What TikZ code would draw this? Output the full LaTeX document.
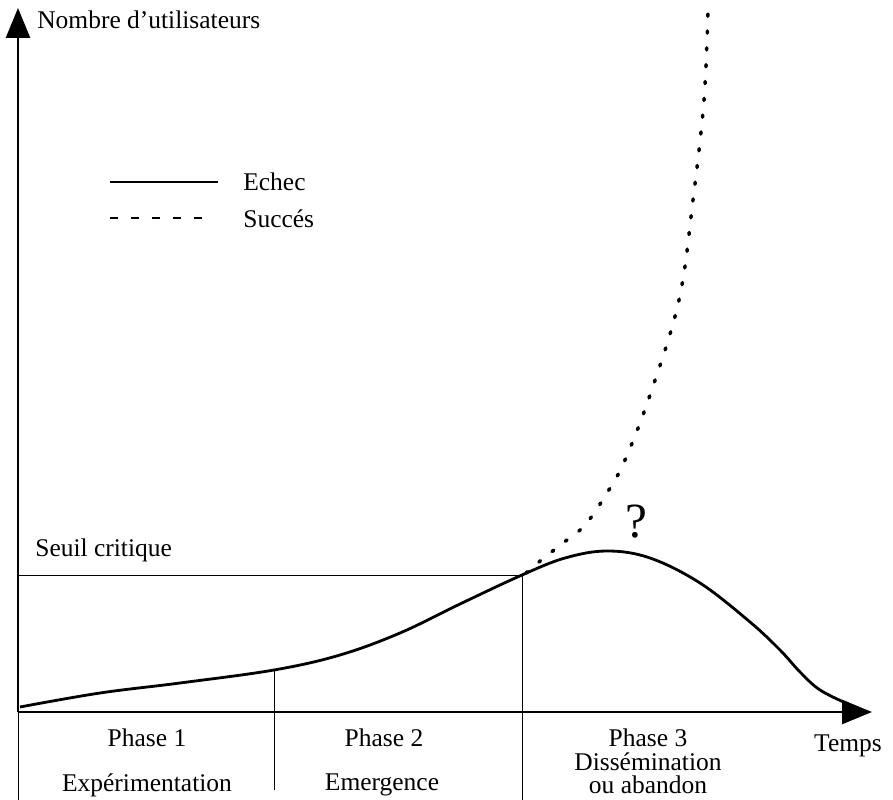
\documentclass[tikz,border=0pt]{standalone}
\usepackage{fontspec}
\setmainfont{Liberation Serif}
\usetikzlibrary{arrows.meta}
\tikzset{
  axe/.style={line width=1.5pt, -{Triangle[length=0.6cm,width=0.48cm]}},
  courbe/.style={line width=1.6pt},
  fin/.style={line width=0.5pt},
  pointille/.style={line width=2pt, line cap=round, dash pattern=on 1.2pt off 8.4pt},
  tirets/.style={line width=1.6pt, dash pattern=on 4.5pt off 7.5pt},
  every node/.style={font=\fontsize{14.5}{16}\selectfont, inner sep=0pt}
}

\begin{document}
\begin{tikzpicture}[x=0.02cm,y=-0.02cm]
  \useasboundingbox (0,0) rectangle (893,800);
  % axes
  \coordinate (o) at (18,712);
  \coordinate (ytop) at (18,8);
  \coordinate (xend) at (872,712);
  \draw[axe] (o) -- (ytop);
  \draw[axe] (o) -- (xend);
  \node[anchor=west] (ylab) at (37,20) {Nombre d’utilisateurs};
  \node (xlab) at (848,746) {Temps};

  % legende
  \coordinate (l1a) at (110,182);
  \coordinate (l1b) at (218,182);
  \coordinate (l2a) at (110,218);
  \coordinate (l2b) at (210,218);
  \draw[courbe] (l1a) -- (l1b);
  \draw[tirets] (l2a) -- (l2b);
  \node[anchor=west] (echec) at (243,182) {Echec};
  \node[anchor=west] (succes) at (243,219) {Succés};

  % seuil et phases
  \coordinate (s) at (522,575);
  \coordinate (p1) at (274,670);
  \draw[fin] (18,575) -- (s);
  \draw[fin] (o) -- (18,800);
  \draw[fin] (p1) -- (274,790);
  \draw[fin] (s) -- (522,800);
  \node[anchor=west] (seuil) at (35,550) {Seuil critique};

  % courbes
  \draw[courbe] plot[smooth, tension=0.6] coordinates {
    (20,707) (100,693) (180,683) (274,670) (340,655) (400,633) (460,604)
    (522,575) (565,558) (607,551) (650,558) (700,583) (750,622) (780,650)
    (800,672) (820,690) (848,704)};
  \draw[pointille] plot[smooth, tension=0.6] coordinates {
    (526,573) (545,557) (563,543) (585,525) (607,493) (625,460) (650,395)
    (679,300) (693,200) (704,100) (708,10)};
  \node (q) at (636,522) {\fontsize{28}{30}\selectfont ?};

  % textes des phases
  \node (ph1) at (147,738) {Phase 1};
  \node (exp) at (147,785) {Expérimentation};
  \node (ph2) at (384,738) {Phase 2};
  \node (eme) at (382,785) {Emergence};
  \node (ph3) at (648,738) {Phase 3};
  \node (dis) at (648,762) {Dissémination};
  \node (aba) at (648,785) {ou abandon};
\end{tikzpicture}
\end{document}
